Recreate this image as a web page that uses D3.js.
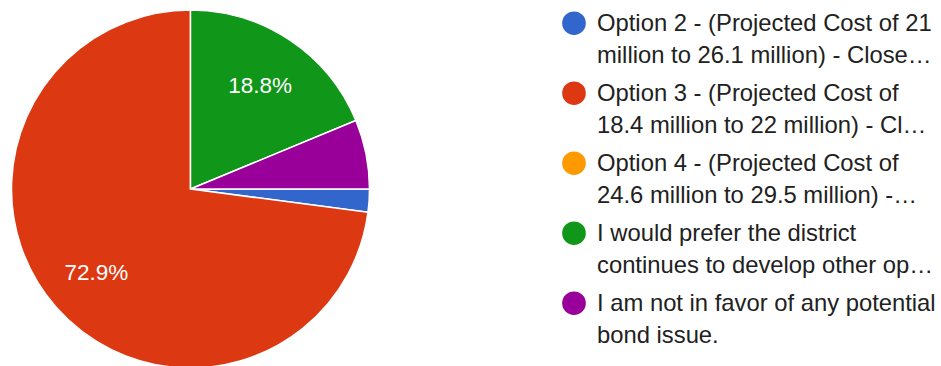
<!DOCTYPE html>
<html>
<head>
<meta charset="utf-8">
<script src="https://cdn.jsdelivr.net/npm/d3@7"></script>
<style>
  html, body { margin: 0; padding: 0; background: #fff; }
  svg { display: block; }
</style>
</head>
<body>
<svg id="chart" width="941" height="366"></svg>
<script>
// Survey responses (count of answers per choice)
const categories = [
  "Option 2 - (Projected Cost of 21 million to 26.1 million) - Close…",
  "Option 3 - (Projected Cost of 18.4 million to 22 million) - Cl…",
  "Option 4 - (Projected Cost of 24.6 million to 29.5 million) -…",
  "I would prefer the district continues to develop other op…",
  "I am not in favor of any potential bond issue."
];
// Legend text as wrapped into two lines
const legendLines = [
  ["Option 2 - (Projected Cost of 21", "million to 26.1 million) - Close…"],
  ["Option 3 - (Projected Cost of", "18.4 million to 22 million) - Cl…"],
  ["Option 4 - (Projected Cost of", "24.6 million to 29.5 million) -…"],
  ["I would prefer the district", "continues to develop other op…"],
  ["I am not in favor of any potential", "bond issue."]
];
const counts = [1, 35, 0, 9, 3];
const colors = ["#3366cc", "#dc3912", "#ff9900", "#109618", "#990099"];

const svg = d3.select("#chart");
const cx = 190.5, cy = 189, R = 179;
const total = d3.sum(counts);

const pie = d3.pie()
  .value(d => d.count)
  .sort(null)
  .startAngle(Math.PI / 2)
  .endAngle(Math.PI / 2 + 2 * Math.PI);

const data = categories.map((c, i) => ({ name: c, count: counts[i], color: colors[i] }));
const arcs = pie(data).filter(a => a.data.count > 0);

const arc = d3.arc().innerRadius(0).outerRadius(R);
const labelArc = d3.arc().innerRadius(R * 0.7).outerRadius(R * 0.7);

const g = svg.append("g").attr("transform", `translate(${cx},${cy})`);

g.selectAll("path.slice")
  .data(arcs)
  .join("path")
  .attr("class", "slice")
  .attr("d", arc)
  .attr("fill", d => d.data.color)
  .attr("stroke", "#fff")
  .attr("stroke-width", 1.5)
  .attr("stroke-linejoin", "round");

const fmt = d3.format(".1%");
g.selectAll("text.pct")
  .data(arcs.filter(a => (a.endAngle - a.startAngle) > 0.6))
  .join("text")
  .attr("class", "pct")
  .attr("transform", d => `translate(${labelArc.centroid(d)})`)
  .attr("text-anchor", "middle")
  .attr("dy", "0.36em")
  .attr("fill", "#fff")
  .style("font-family", "Arial, 'Liberation Sans', sans-serif")
  .style("font-size", "22.5px")
  .text(d => fmt(d.data.count / total));

// Legend
const legendY = d3.scaleBand().domain(d3.range(categories.length)).range([0, 350]);
const legend = svg.append("g").attr("transform", "translate(574,0)");
const items = legend.selectAll("g.item")
  .data(data)
  .join("g")
  .attr("class", "item")
  .attr("transform", (d, i) => `translate(0,${30.7 + legendY(i)})`);

items.append("circle")
  .attr("cx", 0)
  .attr("cy", -7.5)
  .attr("r", 11.8)
  .attr("fill", d => d.color);

items.each(function(d, i) {
  const t = d3.select(this).append("text")
    .attr("x", 23)
    .attr("y", 0)
    .attr("fill", "#212121")
    .style("font-family", "Arial, 'Liberation Sans', sans-serif")
    .style("font-size", "23.8px");
  legendLines[i].forEach((line, k) => {
    t.append("tspan").attr("x", 23).attr("y", k * 32).text(line);
  });
});
</script>
</body>
</html>
